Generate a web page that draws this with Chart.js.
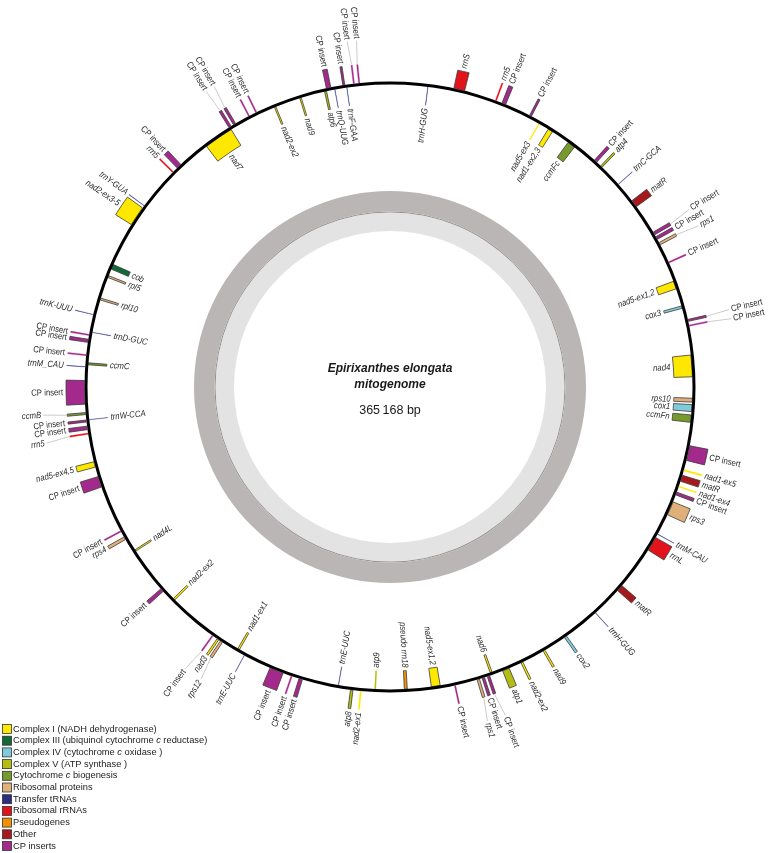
<!DOCTYPE html>
<html>
<head>
<meta charset="utf-8">
<script src="https://cdn.jsdelivr.net/npm/chart.js@4.4.0/dist/chart.umd.min.js"></script>
<style>
  html, body { margin: 0; padding: 0; background: #fff; }
  #wrap { position: relative; width: 773px; height: 853px; }
</style>
</head>
<body>
<div id="wrap"><canvas id="mitoMap"></canvas></div>
<script>
// genome size in kb
const genomeLength = 365.168;
const titleLines = ['Epirixanthes elongata', 'mitogenome'];
const sizeLabel = '365\u2009168 bp';

// legend groups (*x* = italic part)
const groupNames = [
  'Complex I (NADH dehydrogenase)',
  'Complex III (ubiquinol cytochrome *c* reductase)',
  'Complex IV (cytochrome *c* oxidase )',
  'Complex V (ATP synthase )',
  'Cytochrome *c* biogenesis',
  'Ribosomal proteins',
  'Transfer tRNAs',
  'Ribosomal rRNAs',
  'Pseudogenes',
  'Other',
  'CP inserts'
];
const groupColors = ['#ffe800', '#126b37', '#7fcbdc', '#b5bd14', '#779a2c', '#e0b07a',
                     '#2c2f80', '#e2131b', '#f29100', '#a6191d', '#a4298c'];

// features, positions in kb, strand 1 = outside, -1 = inside
const geneNames = [
  'trnH-GUG','rrnS','rrn5','CP insert','CP insert','nad5-ex3','nad1-ex2,3','ccmFc','CP insert','atp4',
  'trnC-GCA','matR','CP insert','CP insert','rps1','CP insert','nad5-ex1,2','cox3','CP insert','CP insert',
  'nad4','rps10','cox1','ccmFn','CP insert','nad1-ex5','matR','nad1-ex4','CP insert','rps3',
  'trnM-CAU','rrnL','matR','trnH-GUG','cox2','nad9','nad2-ex2','atp1','nad6','CP insert',
  'CP insert','rps1','CP insert','nad5-ex1,2','pseudo rrn18','atp9','nad2-ex1','atp8','trnE-UUC','CP insert',
  'CP insert','CP insert','trnE-UUC','nad1-ex1','rps12','nad3','CP insert','nad2-ex2','CP insert','nad4L',
  'rps4','CP insert','CP insert','nad5-ex4,5','rrn5','CP insert','CP insert','trnW-CCA','ccmB','CP insert',
  'trnM_CAU','ccmC','CP insert','CP insert','CP insert','trnD-GUC','trnK-UUU','rpl10','rpl5','cob',
  'nad2-ex3-5','trnY-GUA','rrn5','CP insert','nad7','CP insert','CP insert','CP insert','CP insert','nad2-ex2',
  'nad9','atp6','CP insert','trnQ-UUG','CP insert','trnF-GAA','CP insert','CP insert'
];
const geneStart = [
  7.26,12.24,20.47,21.83,27.60,29.82,31.98,36.57,42.63,44.24,
  49.06,53.15,60.38,61.39,62.65,66.73,70.55,75.53,78.32,79.41,
  85.13,93.45,94.68,96.67,102.54,107.17,108.34,110.47,111.71,113.70,
  120.47,121.26,132.46,139.64,146.74,151.66,156.43,159.29,162.61,163.27,
  164.29,165.30,169.99,172.90,179.26,185.30,188.04,189.65,192.49,199.50,
  201.53,203.37,211.45,212.83,216.33,217.19,218.47,228.55,231.25,240.56,
  243.47,245.15,254.47,258.45,264.83,265.74,267.20,267.55,268.62,270.61,
  277.69,278.15,279.84,282.40,283.70,284.39,287.74,290.83,295.39,297.13,
  306.46,310.76,319.10,320.36,327.31,332.88,333.89,337.15,338.68,342.40,
  347.57,352.50,352.97,354.48,356.15,356.81,358.15,359.17
];
const geneEnd = [
  7.34,14.34,20.72,22.59,27.98,30.02,32.94,38.10,43.20,44.62,
  49.14,54.58,60.95,61.96,63.13,66.98,72.08,76.01,78.70,79.66,
  89.33,94.21,96.02,98.10,105.41,107.47,109.54,110.67,112.28,116.37,
  120.55,124.03,133.70,139.72,147.22,152.04,156.81,160.63,162.99,163.75,
  164.77,165.78,170.24,174.62,179.83,185.55,188.29,190.13,192.57,200.17,
  201.78,206.04,211.53,213.21,216.81,217.57,218.72,228.93,231.92,240.86,
  244.04,245.40,256.57,259.50,265.08,266.41,267.58,267.63,269.00,275.11,
  277.77,278.53,280.09,283.00,283.95,284.47,287.82,291.21,295.77,298.09,
  310.28,310.84,319.35,321.32,333.04,333.36,334.37,337.40,338.93,342.70,
  347.87,352.88,353.83,354.56,356.53,356.89,358.40,359.42
];
const geneStrand = [
  -1,1,1,1,1,-1,-1,-1,1,1,
  1,1,1,1,1,1,-1,-1,1,1,
  -1,-1,-1,-1,1,1,1,1,1,1,
  1,1,1,1,1,1,1,1,-1,1,
  1,1,1,-1,-1,-1,1,1,-1,1,
  1,1,1,-1,1,1,1,-1,1,-1,
  1,1,1,1,1,1,1,-1,1,1,
  1,-1,1,1,1,-1,1,-1,-1,-1,
  1,1,1,1,-1,1,1,1,1,-1,
  -1,-1,1,-1,1,-1,1,1
];
const geneGroup = [
  6,7,7,10,10,0,0,4,10,3,
  6,9,10,10,5,10,0,2,10,10,
  0,5,2,4,10,0,9,0,10,5,
  6,7,9,6,2,0,0,3,0,10,
  10,5,10,0,8,3,0,3,6,10,
  10,10,6,0,5,0,10,0,10,0,
  5,10,10,0,7,10,10,6,4,10,
  6,4,10,10,10,6,6,5,5,1,
  0,6,7,10,0,10,10,10,10,0,
  0,3,10,6,10,6,10,10
];

// build one doughnut ring (features + transparent gaps) for a strand
function ringFor(strand) {
  const order = geneNames.map((n, i) => i)
    .filter(i => geneStrand[i] === strand)
    .sort((a, b) => geneStart[a] - geneStart[b]);
  const ring = { data: [], bg: [], bc: [], bw: [], ref: [] };
  let pos = 0;
  order.forEach(i => {
    if (geneStart[i] > pos) {
      ring.data.push(geneStart[i] - pos);
      ring.bg.push('rgba(0,0,0,0)'); ring.bc.push('rgba(0,0,0,0)'); ring.bw.push(0); ring.ref.push(-1);
    }
    const col = groupColors[geneGroup[i]];
    const thin = geneEnd[i] - geneStart[i] < 0.3;
    ring.data.push(geneEnd[i] - geneStart[i]);
    ring.bg.push(col);
    ring.bc.push(thin ? col : '#3c3c3c');
    ring.bw.push(thin ? 0.3 : 0.8);
    ring.ref.push(i);
    pos = geneEnd[i];
  });
  if (pos < genomeLength) {
    ring.data.push(genomeLength - pos);
    ring.bg.push('rgba(0,0,0,0)'); ring.bc.push('rgba(0,0,0,0)'); ring.bw.push(0); ring.ref.push(-1);
  }
  return ring;
}

const outerRing = ringFor(1);
const innerRing = ringFor(-1);

function plainRing(color, weight) {
  return { data: [genomeLength], backgroundColor: [color], borderWidth: 0, weight: weight, geneRef: [-1] };
}

const FONT = '"Liberation Sans", Arial, sans-serif';

// spread labels so they do not overlap (angles in radians)
function spread(items, sep) {
  items.sort((a, b) => a.mid - b.mid);
  const clusters = items.map(it => ({ members: [it] }));
  const place = c => {
    const mean = c.members.reduce((s, m) => s + m.mid, 0) / c.members.length;
    c.start = mean - (c.members.length - 1) * sep / 2;
  };
  clusters.forEach(place);
  let merged = true;
  while (merged) {
    merged = false;
    for (let k = 0; k < clusters.length - 1; k++) {
      const a = clusters[k], b = clusters[k + 1];
      const aEnd = a.start + (a.members.length - 1) * sep;
      if (b.start - aEnd < sep) {
        a.members = a.members.concat(b.members);
        clusters.splice(k + 1, 1);
        place(a);
        merged = true;
        break;
      }
    }
  }
  clusters.forEach(c => c.members.forEach((m, k) => { m.ang = c.start + k * sep; }));
}

function drawLabel(ctx, text, x, y, rot, align) {
  ctx.save();
  ctx.translate(x, y);
  ctx.rotate(rot);
  ctx.scale(0.86, 1);
  ctx.textAlign = align;
  ctx.textBaseline = 'middle';
  ctx.font = (text === 'CP insert' ? '' : 'italic ') + '9px ' + FONT;
  ctx.fillStyle = '#2a2a2a';
  ctx.fillText(text, 0, 0);
  ctx.restore();
}

const geneLabels = {
  id: 'geneLabels',
  afterDatasetsDraw(chart) {
    const ctx = chart.ctx;
    [[0, 1], [2, -1]].forEach(([dsIndex, side]) => {
      const meta = chart.getDatasetMeta(dsIndex);
      const refs = chart.data.datasets[dsIndex].geneRef;
      const items = [];
      meta.data.forEach((arc, j) => {
        if (refs[j] < 0) return;
        const p = arc.getProps(['x', 'y', 'startAngle', 'endAngle', 'innerRadius', 'outerRadius'], true);
        items.push({ gi: refs[j], mid: (p.startAngle + p.endAngle) / 2, x: p.x, y: p.y,
                     rIn: p.innerRadius, rOut: p.outerRadius });
      });
      const edge = side > 0 ? items[0].rOut : items[0].rIn;
      spread(items, (side > 0 ? 8.8 : 8) / edge);
      const far = side > 0 ? 348 : 254;
      items.forEach(it => {
        const rEdge = side > 0 ? it.rOut : it.rIn;
        const moved = Math.abs(it.ang - it.mid) > 0.004;
        let r = rEdge + side * 3;
        if (moved) {
          ctx.save();
          ctx.strokeStyle = '#a9a9a9';
          ctx.lineWidth = 0.6;
          ctx.beginPath();
          ctx.moveTo(it.x + (rEdge + side) * Math.cos(it.mid), it.y + (rEdge + side) * Math.sin(it.mid));
          ctx.lineTo(it.x + far * Math.cos(it.ang), it.y + far * Math.sin(it.ang));
          ctx.stroke();
          ctx.restore();
          r = far + side * 2;
        }
        const a = moved ? it.ang : it.mid;
        const theta = ((a + Math.PI / 2) % (2 * Math.PI) + 2 * Math.PI) % (2 * Math.PI);
        const right = theta < Math.PI;
        const rot = right ? a : a + Math.PI;
        let align;
        if (side > 0) align = right ? 'left' : 'right';
        else align = right ? 'right' : 'left';
        drawLabel(ctx, geneNames[it.gi], it.x + r * Math.cos(a), it.y + r * Math.sin(a), rot, align);
      });
    });

    // centre title
    const c = chart.getDatasetMeta(1).data[0];
    ctx.save();
    ctx.fillStyle = '#1a1a1a';
    ctx.textAlign = 'center';
    ctx.textBaseline = 'middle';
    ctx.font = 'bold italic 12px ' + FONT;
    ctx.fillText(titleLines[0], c.x, c.y - 18);
    ctx.fillText(titleLines[1], c.x, c.y - 2);
    ctx.font = '12.5px ' + FONT;
    ctx.fillText(sizeLabel, c.x, c.y + 24);
    ctx.restore();
  }
};

const groupLegend = {
  id: 'groupLegend',
  afterDraw(chart) {
    const ctx = chart.ctx;
    ctx.save();
    ctx.textBaseline = 'middle';
    groupNames.forEach((name, i) => {
      const y = 729 + i * 11.7;
      ctx.fillStyle = groupColors[i];
      ctx.fillRect(2.5, y - 4.5, 9, 9);
      ctx.strokeStyle = '#333';
      ctx.lineWidth = 0.8;
      ctx.strokeRect(2.5, y - 4.5, 9, 9);
      ctx.fillStyle = '#222';
      let x = 13;
      name.split('*').forEach((part, k) => {
        ctx.font = (k % 2 ? 'italic ' : '') + '9.3px ' + FONT;
        ctx.fillText(part, x, y);
        x += ctx.measureText(part).width;
      });
    });
    ctx.restore();
  }
};

new Chart(document.getElementById('mitoMap'), {
  type: 'doughnut',
  data: {
    datasets: [
      { data: outerRing.data, backgroundColor: outerRing.bg, borderColor: outerRing.bc,
        borderWidth: outerRing.bw, weight: 18.5, geneRef: outerRing.ref },
      plainRing('#000000', 3),
      { data: innerRing.data, backgroundColor: innerRing.bg, borderColor: innerRing.bc,
        borderWidth: innerRing.bw, weight: 18.5, geneRef: innerRing.ref },
      plainRing('rgba(0,0,0,0)', 88),
      plainRing('#bab6b5', 20.5),
      plainRing('#959191', 1),
      plainRing('#e3e3e3', 18.5)
    ]
  },
  options: {
    responsive: true,
    maintainAspectRatio: false,
    animation: false,
    events: [],
    radius: 324,
    cutout: (156 / 324 * 100) + '%',
    layout: { padding: { left: 7, right: 0, top: 0, bottom: 79 } },
    plugins: { legend: { display: false }, tooltip: { enabled: false } }
  },
  plugins: [geneLabels, groupLegend]
});
</script>
</body>
</html>
